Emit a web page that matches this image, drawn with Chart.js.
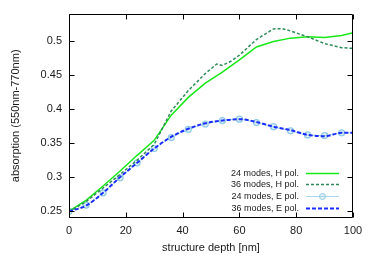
<!DOCTYPE html>
<html>
<head>
<meta charset="utf-8">
<script src="https://cdn.jsdelivr.net/npm/chart.js@4/dist/chart.umd.min.js"></script>
<style>
html,body{margin:0;padding:0;background:#fff;}
#c{display:block;}
</style>
</head>
<body>
<canvas id="c" width="371" height="256"></canvas>
<script>
// ---- data ----
const depthH24 = [0,6,12,18,24,30,36,42,48,54,60,66,72,78,84,90,96,100];
const absH24   = [0.250,0.266,0.287,0.309,0.332,0.354,0.391,0.417,0.438,0.454,0.472,0.491,0.499,0.504,0.506,0.505,0.508,0.512];

const depthH36 = [0,6,12,18,24,30,36,42,48,52,54,57,60,66,72,75,78,84,90,96,100];
const absH36   = [0.249,0.264,0.284,0.304,0.325,0.348,0.397,0.427,0.452,0.466,0.464,0.470,0.479,0.502,0.5175,0.518,0.5145,0.506,0.496,0.490,0.489];

const depthE24 = [0,6,12,18,24,30,36,42,48,54,60,66,72,78,84,90,96,100];
const absE24   = [0.250,0.259,0.277,0.299,0.321,0.342,0.358,0.370,0.378,0.383,0.385,0.380,0.374,0.368,0.362,0.361,0.365,0.365];

const depthE36 = [0,6,12,18,24,30,36,42,48,54,60,66,72,78,84,90,96,100];
const absE36   = [0.250,0.258,0.277,0.300,0.321,0.342,0.359,0.371,0.379,0.383,0.385,0.381,0.374,0.369,0.362,0.360,0.365,0.365];

const seriesNames = ["24 modes, H pol.","36 modes, H pol.","24 modes, E pol.","36 modes, E pol."];
const xTicks = [0,20,40,60,80,100];
const yTicks = [0.25,0.3,0.35,0.4,0.45,0.5];
const yTickLabels = ["0.25","0.3","0.35","0.4","0.45","0.5"];
const xTitle = "structure depth [nm]";
const yTitle = "absorption (550nm-770nm)";

const pts = (xs, ys) => xs.map((x,i)=>({x:x, y:ys[i]}));

const FONT = "'Liberation Sans', Arial, Helvetica, sans-serif";
Chart.defaults.font.family = FONT;
Chart.defaults.color = '#1a1a1a';

const frame = {
  id: 'frame',
  afterDatasetsDraw(chart) {
    const {ctx, chartArea: a, scales: {x, y}} = chart;
    ctx.save();
    ctx.strokeStyle = '#000';
    ctx.lineWidth = 1;
    const L = Math.round(a.left)+0.5, R = Math.round(a.right)-0.5, T = Math.round(a.top)+0.5, B = Math.round(a.bottom)-0.5;
    ctx.beginPath();
    ctx.rect(L, T, R-L, B-T);
    ctx.stroke();
    const tl = 5;
    ctx.beginPath();
    xTicks.forEach(v => {
      const px = Math.round(x.getPixelForValue(v))+0.5;
      ctx.moveTo(px, B); ctx.lineTo(px, B-tl);
      ctx.moveTo(px, T); ctx.lineTo(px, T+tl);
    });
    yTicks.forEach(v => {
      const py = Math.round(y.getPixelForValue(v))+0.5;
      ctx.moveTo(L, py); ctx.lineTo(L+tl, py);
      ctx.moveTo(R, py); ctx.lineTo(R-tl, py);
    });
    ctx.stroke();

    // legend (inside plot, bottom right)
    const rows = [45.5, 34, 22.2, 10.5];
    const tx = a.right - 54, l0 = a.right - 47, l1 = a.right - 14;
    ctx.font = '9px ' + FONT;
    ctx.textAlign = 'right';
    ctx.textBaseline = 'middle';
    chart.data.datasets.forEach((ds, i) => {
      const yy = Math.round(a.bottom - rows[i]) + 0.5;
      ctx.fillStyle = '#1a1a1a';
      ctx.fillText(seriesNames[i], tx, yy);
      ctx.save();
      ctx.strokeStyle = ds.borderColor;
      ctx.lineWidth = ds.borderWidth;
      ctx.setLineDash(ds.borderDash || []);
      ctx.beginPath(); ctx.moveTo(l0, yy); ctx.lineTo(l1, yy); ctx.stroke();
      if (ds.legendMarker) {
        ctx.setLineDash([]);
        ctx.lineWidth = 1;
        ctx.strokeStyle = ds.pointBorderColor;
        ctx.fillStyle = ds.pointBackgroundColor;
        ctx.beginPath(); ctx.arc((l0+l1)/2, yy, 3, 0, Math.PI*2); ctx.fill(); ctx.stroke();
      }
      ctx.restore();
    });
    ctx.restore();
  }
};

new Chart(document.getElementById('c'), {
  type: 'line',
  data: {
    datasets: [
      { label: seriesNames[0], data: pts(depthH24, absH24), borderColor: '#18e818', borderWidth: 1.5, pointRadius: 0, tension: 0, order: 3 },
      { label: seriesNames[1], data: pts(depthH36, absH36), borderColor: '#2e8b57', borderWidth: 1.5, borderDash: [3,2], pointRadius: 0, tension: 0, order: 2 },
      { label: seriesNames[2], data: pts(depthE24, absE24), borderColor: '#a8d8ea', borderWidth: 1, pointStyle: 'circle', legendMarker: true,
        pointRadius: depthE24.map(d => d === 100 ? 0 : 3), pointBorderColor: '#8fcbe4', pointBackgroundColor: 'rgba(173,216,230,0.35)', pointBorderWidth: 1.2,
        cubicInterpolationMode: 'monotone', order: 4 },
      { label: seriesNames[3], data: pts(depthE36, absE36), borderColor: '#1a2cff', borderWidth: 2, borderDash: [4,2], pointRadius: 0, cubicInterpolationMode: 'monotone', order: 1 }
    ]
  },
  options: {
    responsive: false,
    animation: false,
    events: [],
    layout: { padding: { left: 0, right: 18, top: 11, bottom: 0 } },
    plugins: { legend: { display: false }, tooltip: { enabled: false } },
    scales: {
      x: {
        type: 'linear', min: 0, max: 100,
        grid: { display: false, tickLength: 0 }, border: { display: false },
        afterBuildTicks: s => { s.ticks = xTicks.map(v => ({ value: v })); },
        afterFit: s => { s.height = 38; },
        ticks: { padding: 6, maxRotation: 0, font: { size: 11 }, color: '#1a1a1a', callback: v => String(v) },
        title: { display: true, text: xTitle, font: { size: 11 }, color: '#1a1a1a', padding: { top: 0, bottom: 1 } }
      },
      y: {
        type: 'linear', min: 0.24, max: 0.54,
        grid: { display: false, tickLength: 0 }, border: { display: false },
        afterBuildTicks: s => { s.ticks = yTicks.map(v => ({ value: v })); },
        afterFit: s => { s.width = 69; },
        ticks: { padding: 7, font: { size: 11 }, color: '#1a1a1a', callback: (v) => yTickLabels[yTicks.indexOf(v)] },
        title: { display: true, text: yTitle, font: { size: 11 }, color: '#1a1a1a', padding: { top: 9.5, bottom: 0 } }
      }
    }
  },
  plugins: [frame]
});
</script>
</body>
</html>
